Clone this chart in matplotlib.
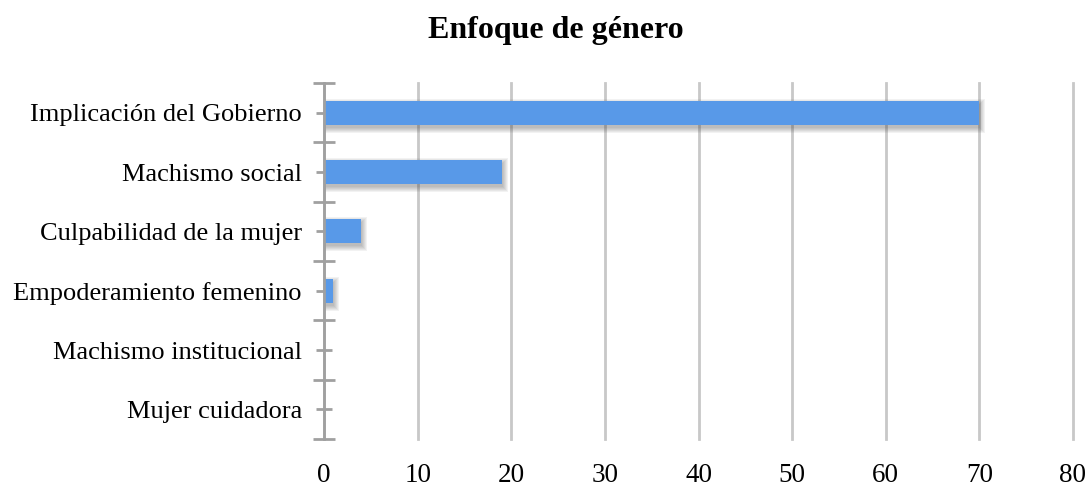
import matplotlib
matplotlib.use("Agg")
import matplotlib.pyplot as plt
import numpy as np

categories = [
    "Implicación del Gobierno",
    "Machismo social",
    "Culpabilidad de la mujer",
    "Empoderamiento femenino",
    "Machismo institucional",
    "Mujer cuidadora",
]
values = [70, 19, 4, 1, 0, 0]
x_ticks = [0, 10, 20, 30, 40, 50, 60, 70, 80]
title = "Enfoque de género"

plt.rcParams["font.family"] = ["Liberation Serif", "DejaVu Serif"]

fig = plt.figure(figsize=(10.91, 4.86), dpi=100)
ax = fig.add_axes([324 / 1091, 1 - 439 / 486, (1073 - 324) / 1091, (439 - 83) / 486])

n = len(categories)
pos = np.arange(n)
bar_color = "#5899e8"
h = 0.4

ax.set_xlim(0, 80)
ax.set_ylim(n - 0.5, -0.5)

# pixel sizes in data units, used for the soft drop shadow
px_x = 80 / (1073 - 324)
px_y = n / (439 - 83)
for s in range(1, 7):
    for v, p in zip(values, pos):
        if v <= 0:
            continue
        ax.barh(p + 3 * px_y, v + s * px_x, height=h + 2 * s * px_y - 2 * px_y,
                left=0, color="#404040", alpha=0.065, zorder=2, linewidth=0)
ax.barh(pos, values, height=h, color=bar_color, zorder=3, linewidth=0)

ax.set_xticks(x_ticks)
ax.set_xticklabels([str(t) for t in x_ticks], fontsize=19.5)
ax.tick_params(axis="x", length=0, pad=17)
ax.xaxis.grid(True, color="#c8c8c8", linewidth=2)
for gl in ax.xaxis.get_gridlines():
    gl.set_clip_on(False)
ax.set_axisbelow(True)

# category boundaries as major ticks, labels on minor ticks at centers
ax.set_yticks(np.arange(n + 1) - 0.5)
ax.set_yticklabels([])
ax.set_yticks(pos, minor=True)
ax.set_yticklabels(categories, minor=True, fontsize=19)
ax.tick_params(axis="y", which="major", direction="inout", length=16,
               width=2, color="#a0a0a0")
ax.tick_params(axis="y", which="minor", direction="inout", length=12,
               width=2, color="#a0a0a0", pad=10)

for s in ["top", "right", "bottom"]:
    ax.spines[s].set_visible(False)
ax.spines["left"].set_color("#a0a0a0")
ax.spines["left"].set_linewidth(2)
ax.spines["left"].set_zorder(4)

fig.text(556 / 1091, 1 - 30 / 486, title, ha="center", va="center",
         fontsize=23, fontweight="bold")

fig.savefig("out.png", dpi=100)
